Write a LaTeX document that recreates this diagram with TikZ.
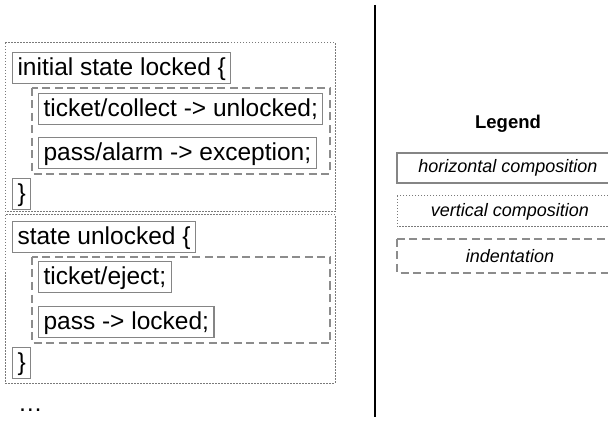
\documentclass[tikz,border=0pt]{standalone}
\usepackage{fontspec}
\setmainfont{Liberation Sans}
\begin{document}
\begin{tikzpicture}[x=1pt,y=-1pt,
  code/.style={draw=black!48, line width=1.1pt, anchor=north west,
    font=\fontsize{24.5}{28}\selectfont, text height=19.5pt, text depth=5.5pt,
    inner xsep=5pt, inner ysep=3pt, minimum height=31pt},
  vcomp/.style={draw=black!52, line width=1pt, dash pattern=on 1.5pt off 1.5pt},
  indent/.style={draw=black!45, line width=1.1pt, dash pattern=on 8pt off 4.5pt},
  legtext/.style={font=\fontsize{18}{21}\selectfont\itshape},
  hcomp/.style={draw=black!48, line width=1.1pt}]
\useasboundingbox (0,0) rectangle (608,422);

% first state block
\draw[vcomp] (5,43) rectangle (335,212);
\node[code] (lockedhead) at (12,52) {initial state locked \{};
\draw[indent] (32,88) rectangle (330,174);
\node[code] (collect) at (38,93) {ticket/collect -> unlocked;};
\node[code] (alarm) at (38,137) {pass/alarm -> exception;};
\node[code] (lockedend) at (12,178) {\}};

% second state block
\draw[vcomp] (5,215) rectangle (335,383);
\node[code] (unlockedhead) at (12,221) {state unlocked \{};
\draw[indent] (32,257) rectangle (330,343);
\node[code] (eject) at (38,261) {ticket/eject;};
\node[code] (pass) at (38,306) {pass -> locked;};
\node[code] (unlockedend) at (12,347) {\}};

\node[font=\fontsize{24.5}{28}\selectfont, anchor=west, inner sep=0pt] (more) at (18,410) {…};

% separator
\draw[line width=1.5pt] (375,5) -- (375,417);

% legend
\node[font=\fontsize{18.5}{21}\selectfont\bfseries] (legend) at (508,124) {Legend};
\draw[hcomp] (397,153) rectangle (623,183);
\node[legtext] (hlabel) at (508,168) {horizontal composition};
\draw[vcomp] (397,196) rectangle (623,227);
\node[legtext] (vlabel) at (510,211.5) {vertical composition};
\draw[indent] (397,239) rectangle (623,273);
\node[legtext] (ilabel) at (510,256) {indentation};
\end{tikzpicture}
\end{document}
